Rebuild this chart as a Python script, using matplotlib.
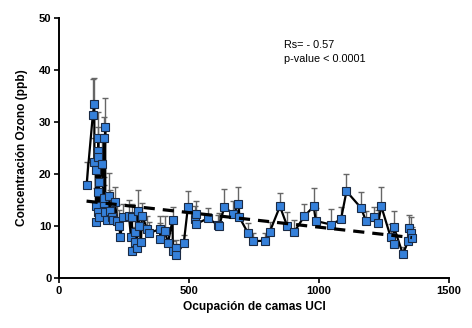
"""
Ozone concentration vs ICU bed occupancy (scatter + connecting line,
upper error bars and a dashed linear trend).
"""
import matplotlib
matplotlib.use("Agg")
import matplotlib.pyplot as plt
import numpy as np

plt.rcParams["font.family"] = ["Liberation Sans", "DejaVu Sans"]

# ---- data ------------------------------------------------------------------
camas_uci = [106, 130, 136, 136, 141, 142, 144, 149, 149, 150, 150, 151, 152,
             155, 164, 172, 173, 173, 178, 178, 183, 192, 197, 202, 209, 215,
             224, 232, 236, 247, 269, 277, 281, 281, 291, 291, 299, 304, 308,
             315, 319, 340, 347, 388, 390, 408, 419, 437, 438, 449, 452, 480,
             496, 525, 527, 527, 573, 613, 617, 636, 671, 690, 694, 728, 747,
             792, 810, 850, 878, 905, 944, 980, 988, 1046, 1085, 1106, 1162,
             1181, 1213, 1228, 1240, 1276, 1287, 1288, 1323, 1344, 1348, 1355,
             1358]
ozono_ppb = [17.9, 31.3, 33.5, 22.4, 20.8, 13.9, 10.8, 12.8, 16.6, 24.5, 23.3,
             26.9, 11.8, 18.5, 22.0, 14.4, 26.9, 15.4, 29.0, 12.8, 11.2, 15.8,
             12.9, 11.8, 11.2, 14.6, 11.0, 10.1, 7.9, 11.8, 12.0, 7.9, 11.8,
             5.2, 8.8, 6.9, 5.8, 12.9, 10.1, 6.9, 12.0, 9.4, 8.7, 9.4, 7.6, 9.0,
             6.7, 11.2, 5.2, 5.8, 4.5, 6.7, 13.7, 11.4, 12.4, 10.4, 11.5, 10.2,
             10.1, 13.7, 12.3, 14.2, 11.7, 8.6, 7.1, 7.2, 8.8, 13.8, 10.0, 8.9,
             11.9, 13.8, 11.0, 10.3, 11.3, 16.7, 13.5, 11.0, 11.7, 10.6, 13.8,
             7.9, 6.5, 9.9, 4.6, 7.2, 9.7, 8.7, 7.8]
ozono_err = [4.4, 7.0, 5.0, 4.5, 4.0, 3.5, 3.0, 3.5, 4.0, 4.5, 4.0, 5.0, 3.0,
             4.0, 4.5, 3.5, 4.0, 4.0, 5.7, 3.5, 4.0, 4.5, 4.0, 3.5, 3.5, 3.0,
             3.0, 3.0, 3.5, 2.5, 3.0, 3.0, 2.5, 3.0, 3.0, 3.0, 3.0, 4.0, 3.0,
             3.0, 2.5, 2.5, 2.0, 2.5, 3.0, 3.0, 2.0, 2.5, 2.0, 1.5, 2.0, 1.5,
             3.0, 2.5, 2.5, 2.5, 2.0, 2.0, 2.5, 3.5, 2.5, 3.4, 3.0, 2.0, 1.5,
             1.5, 2.0, 2.6, 2.8, 2.3, 2.3, 3.5, 2.5, 3.0, 2.3, 3.3, 3.0, 2.0,
             2.0, 2.5, 3.8, 2.5, 2.0, 3.0, 1.3, 2.0, 2.5, 3.0, 2.0]

# linear trend (intercept, slope)
trend_intercept = 15.4
trend_slope = -0.0056

x_ticks = [0, 500, 1000, 1500]
y_ticks = [0, 10, 20, 30, 40, 50]

# ---- plot ------------------------------------------------------------------
fig = plt.figure(figsize=(4.72, 3.28), dpi=100)
ax = fig.add_axes([0.125, 0.152, 0.826, 0.793])

x = np.array(camas_uci)
y = np.array(ozono_ppb)
err = np.array(ozono_err)

ax.errorbar(x, y, yerr=[np.zeros_like(err), err], fmt="none",
            ecolor="#666666", elinewidth=1.0, capsize=2.5, capthick=1.0,
            zorder=2)
ax.plot(x, y, color="black", lw=1.6, zorder=3)
ax.plot(x, y, ls="none", marker="s", ms=5.2, mfc="#3580da", mec="#1a2a44",
        mew=0.8, zorder=4)

xt = np.array([x.min(), x.max()])
ax.plot(xt, trend_intercept + trend_slope * xt, color="black", lw=2.3,
        ls=(0, (3.5, 2.5)), zorder=5)

ax.text(865, 44.8, "Rs= - 0.57", fontsize=7.8, va="center")
ax.text(865, 42.2, "p-value < 0.0001", fontsize=7.8, va="center")

ax.set_xlim(0, 1500)
ax.set_ylim(0, 50)
ax.set_xticks(x_ticks)
ax.set_yticks(y_ticks)
for s in ("top", "right"):
    ax.spines[s].set_visible(False)
for s in ("left", "bottom"):
    ax.spines[s].set_linewidth(1.4)
ax.tick_params(width=1.2, length=3.5, labelsize=8, pad=2)
for lab in ax.get_xticklabels() + ax.get_yticklabels():
    lab.set_fontweight("bold")

ax.set_xlabel("Ocupación de camas UCI", fontsize=8.6, fontweight="bold",
              labelpad=4)
ax.set_ylabel("Concentración Ozono (ppb)", fontsize=8.6, fontweight="bold",
              labelpad=8)

fig.savefig("out.png", dpi=100)
